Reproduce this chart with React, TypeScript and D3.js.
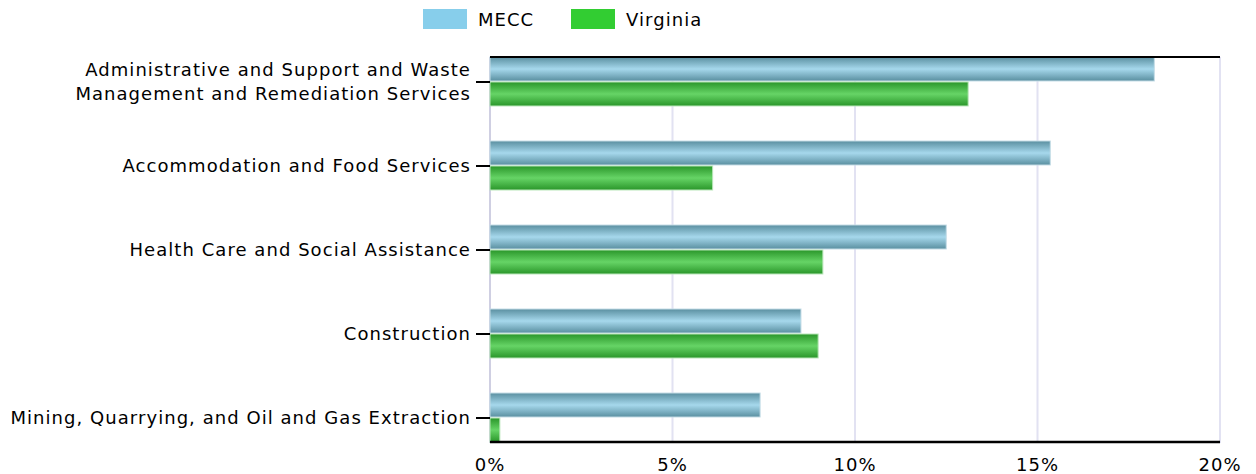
import React from 'react';
import * as d3 from 'd3';

// industries, top to bottom
const categories = [
  ['Administrative and Support and Waste', 'Management and Remediation Services'],
  ['Accommodation and Food Services'],
  ['Health Care and Social Assistance'],
  ['Construction'],
  ['Mining, Quarrying, and Oil and Gas Extraction'],
];
const meccValues = [18.2, 15.35, 12.5, 8.52, 7.4];
const virginiaValues = [13.1, 6.1, 9.12, 8.99, 0.27];
const xTicks = [0, 5, 10, 15, 20];
const seriesNames = ['MECC', 'Virginia'];

const W = 1256;
const H = 474;
const left = 490;
const right = 1220;
const top = 57;
const bottom = 443;
const font = 'Verdana, "DejaVu Sans", sans-serif';
const ls = 1.05;

const App: React.FC = () => {
  const x = d3.scaleLinear().domain([0, 20]).range([left, right]);
  const y = d3
    .scaleBand<number>()
    .domain(d3.range(categories.length))
    .range([top, bottom])
    .paddingInner(0.405)
    .paddingOuter(0);
  const barH = y.bandwidth() / 2;

  const series = [
    { name: seriesNames[0], values: meccValues, grad: 'gMecc', swatch: '#87ceeb' },
    { name: seriesNames[1], values: virginiaValues, grad: 'gVa', swatch: '#32cd32' },
  ];

  return (
    <svg width={W} height={H} style={{ display: 'block', position: 'absolute', left: 0, top: 0 }}>
      <defs>
        <linearGradient id="gMecc" x1="0" y1="0" x2="0" y2="1">
          <stop offset="0%" stopColor="#5a8fa0" />
          <stop offset="50%" stopColor="#a6d8ec" />
          <stop offset="100%" stopColor="#5a8fa0" />
        </linearGradient>
        <linearGradient id="gVa" x1="0" y1="0" x2="0" y2="1">
          <stop offset="0%" stopColor="#2a962a" />
          <stop offset="50%" stopColor="#66d466" />
          <stop offset="100%" stopColor="#2a962a" />
        </linearGradient>
      </defs>

      {/* gridlines */}
      {xTicks.map(t => (
        <line key={t} x1={x(t)} x2={x(t)} y1={top} y2={bottom} stroke="#e2e2f2" strokeWidth={2} />
      ))}
      <line x1={left} x2={left} y1={top} y2={bottom} stroke="#c8c8dc" strokeWidth={1.5} />

      {/* bars */}
      {series.map((s, si) =>
        s.values.map((v, i) => (
          <rect
            key={s.name + i}
            x={x(0)}
            y={(y(i) as number) + si * barH}
            width={x(v) - x(0)}
            height={barH - 1}
            fill={`url(#${s.grad})`}
            stroke={si === 0 ? '#c4dce6' : '#b8e6b8'}
            strokeWidth={1}
          />
        ))
      )}

      {/* frame lines */}
      <line x1={left} x2={right} y1={top} y2={top} stroke="#000" strokeWidth={2} />
      <line x1={left} x2={right} y1={bottom - 1} y2={bottom - 1} stroke="#000" strokeWidth={2.5} />

      {/* y ticks and labels */}
      {categories.map((lines, i) => {
        const cy = (y(i) as number) + y.bandwidth() / 2;
        return (
          <g key={i}>
            <line x1={left - 14} x2={left} y1={cy} y2={cy} stroke="#000" strokeWidth={2} />
            {lines.map((l, li) => (
              <text
                key={li}
                x={left - 19}
                y={cy + (li - (lines.length - 1) / 2) * 24 + 6}
                textAnchor="end"
                fontFamily={font}
                fontSize={18}
                letterSpacing={ls}
                fill="#000"
              >
                {l}
              </text>
            ))}
          </g>
        );
      })}

      {/* x tick labels */}
      {xTicks.map(t => (
        <text key={t} x={x(t)} y={471} textAnchor="middle" fontFamily={font} fontSize={18} letterSpacing={ls} fill="#000">
          {t}%
        </text>
      ))}

      {/* legend */}
      {series.map((s, si) => {
        const lx = 423 + si * 148;
        return (
          <g key={s.name}>
            <rect x={lx} y={9} width={44} height={20} fill={s.swatch} />
            <text x={lx + 55} y={26} fontFamily={font} fontSize={18} letterSpacing={ls} fill="#000">
              {s.name}
            </text>
          </g>
        );
      })}
    </svg>
  );
};

export default App;
